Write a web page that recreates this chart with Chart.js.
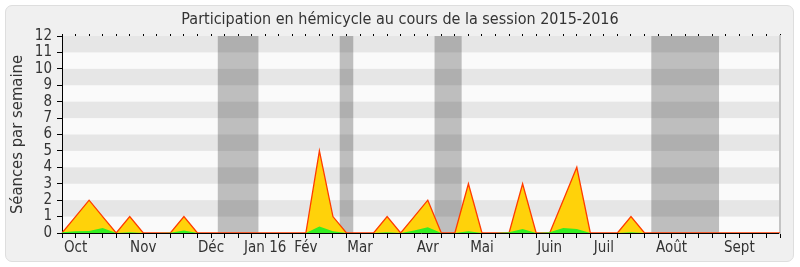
<!DOCTYPE html>
<html><head><meta charset="utf-8">
<script src="https://cdn.jsdelivr.net/npm/chart.js@4/dist/chart.umd.min.js"></script>
<style>
html,body{margin:0;padding:0;background:#fff;}
#wrap{position:relative;width:800px;height:267px;}
#box{position:absolute;left:5px;top:5px;width:789px;height:257px;background:#f0f0f0;border:1px solid #dedede;border-radius:7px;box-sizing:border-box}
canvas{position:absolute;left:0;top:0;}
</style></head><body>
<div id="wrap"><div id="box"></div><canvas id="c" width="800" height="267"></canvas></div>
<script>
// 54 weekly points (week 0 .. week 53)
const monthNames = ['Oct','Nov','Déc','Jan 16','Fév','Mar','Avr','Mai','Juin','Juil','Août','Sept'];
const monthWeek  = [1, 6, 11, 15, 18, 22, 27, 31, 36, 40, 45, 50];
const presences = [0,1,2,1,0,1,0,0,0,1,0,0,0,0,0,0,0,0,0,5,1,0,0,0,1,0,1,2,0,0,3,0,0,0,3,0,0,2,4,0,0,0,1,0,0,0,0,0,0,0,0,0,0,0];
const interventions = [0.05,0.1,0.12,0.3,0,0.05,0,0,0.02,0.15,0,0,0,0,0,0,0,0,0,0.4,0.1,0,0,0,0.05,0,0.15,0.35,0,0,0.1,0,0,0.05,0.25,0,0.05,0.3,0.25,0,0,0,0.05,0,0,0,0,0,0,0,0,0,0,0];
const vacances = [0,0,0,0,0,0,0,0,0,0,0,0,12,12,12,0,0,0,0,0,0,12,0,0,0,0,0,0,12,12,0,0,0,0,0,0,0,0,0,0,0,0,0,0,12,12,12,12,12,0,0,0,0,0];
const yTicks = [0,1,2,3,4,5,6,7,8,9,10,11,12];

const labels = presences.map((_, i) => {
  const k = monthWeek.indexOf(i);
  return k >= 0 ? monthNames[k] : '';
});

const FONT = '"DejaVu Sans Condensed", "DejaVu Sans", sans-serif';
Chart.defaults.font.family = FONT;
Chart.defaults.color = '#333';

const stripes = {
  id: 'stripes',
  beforeDraw(chart) {
    const {ctx, chartArea: a, scales: {y}} = chart;
    ctx.save();
    ctx.fillStyle = '#fafafa';
    ctx.fillRect(a.left, a.top, a.right - a.left, a.bottom - a.top);
    for (let i = 0; i < yTicks.length - 1; i++) {
      if (yTicks[i] % 2 === 1) {
        const y0 = y.getPixelForValue(yTicks[i]);
        const y1 = y.getPixelForValue(yTicks[i + 1]);
        ctx.fillStyle = '#e6e6e6';
        ctx.fillRect(a.left, y1, a.right - a.left, y0 - y1);
      }
    }
    ctx.restore();
  }
};

new Chart(document.getElementById('c'), {
  type: 'line',
  data: {
    labels: labels,
    datasets: [
      {
        label: 'Interventions',
        data: interventions,
        order: 0,
        fill: 'origin',
        backgroundColor: '#33ee22',
        borderColor: '#33ee22',
        borderWidth: 0,
        pointRadius: 0,
        tension: 0
      },
      {
        label: 'Présences',
        data: presences,
        order: 1,
        fill: 'origin',
        backgroundColor: '#ffd20a',
        borderColor: '#ff3c00',
        borderWidth: 1.3,
        pointRadius: 0,
        tension: 0
      },
      {
        label: 'Vacances',
        data: vacances,
        order: 2,
        fill: 'origin',
        stepped: 'middle',
        backgroundColor: 'rgba(0,0,0,0.24)',
        borderWidth: 0,
        pointRadius: 0
      }
    ]
  },
  options: {
    responsive: false,
    animation: false,
    events: [],
    layout: { padding: 0 },
    plugins: {
      legend: { display: false },
      tooltip: { enabled: false },
      title: {
        display: true,
        text: 'Participation en hémicycle au cours de la session 2015-2016',
        font: { size: 16, weight: 'normal', family: FONT },
        color: '#333',
        padding: { top: 10.4, bottom: 6.4 }
      }
    },
    scales: {
      x: {
        type: 'category',
        offset: false,
        grid: { drawOnChartArea: false, drawTicks: true, tickLength: 5, color: '#000' },
        border: { display: true, color: '#000', width: 1 },
        ticks: { autoSkip: false, maxRotation: 0, padding: 1, font: { size: 15 }, color: '#333' },
        afterFit(s) { s.height = 34; }
      },
      x2: {
        type: 'category',
        position: 'top',
        offset: false,
        grid: { drawOnChartArea: false, drawTicks: true, tickLength: 2, color: '#000' },
        border: { display: false },
        ticks: { display: false },
        afterFit(s) { s.height = 0; }
      },
      y: {
        min: 0,
        max: 12,
        grid: { drawOnChartArea: false, drawTicks: true, tickLength: 5, color: '#000' },
        border: { display: true, color: '#000', width: 1 },
        ticks: { stepSize: 1, autoSkip: false, padding: 5, font: { size: 15 }, color: '#333' },
        title: { display: true, text: 'Séances par semaine', font: { size: 16.5 }, color: '#333', padding: { top: 8, bottom: 0 } },
        afterFit(s) { s.width = 62; }
      },
      y2: {
        position: 'right',
        min: 0,
        max: 12,
        grid: { display: false },
        border: { display: true, color: '#c4c4c4', width: 2 },
        ticks: { display: false },
        afterFit(s) { s.width = 20; }
      }
    }
  },
  plugins: [stripes]
});
</script>
</body></html>
